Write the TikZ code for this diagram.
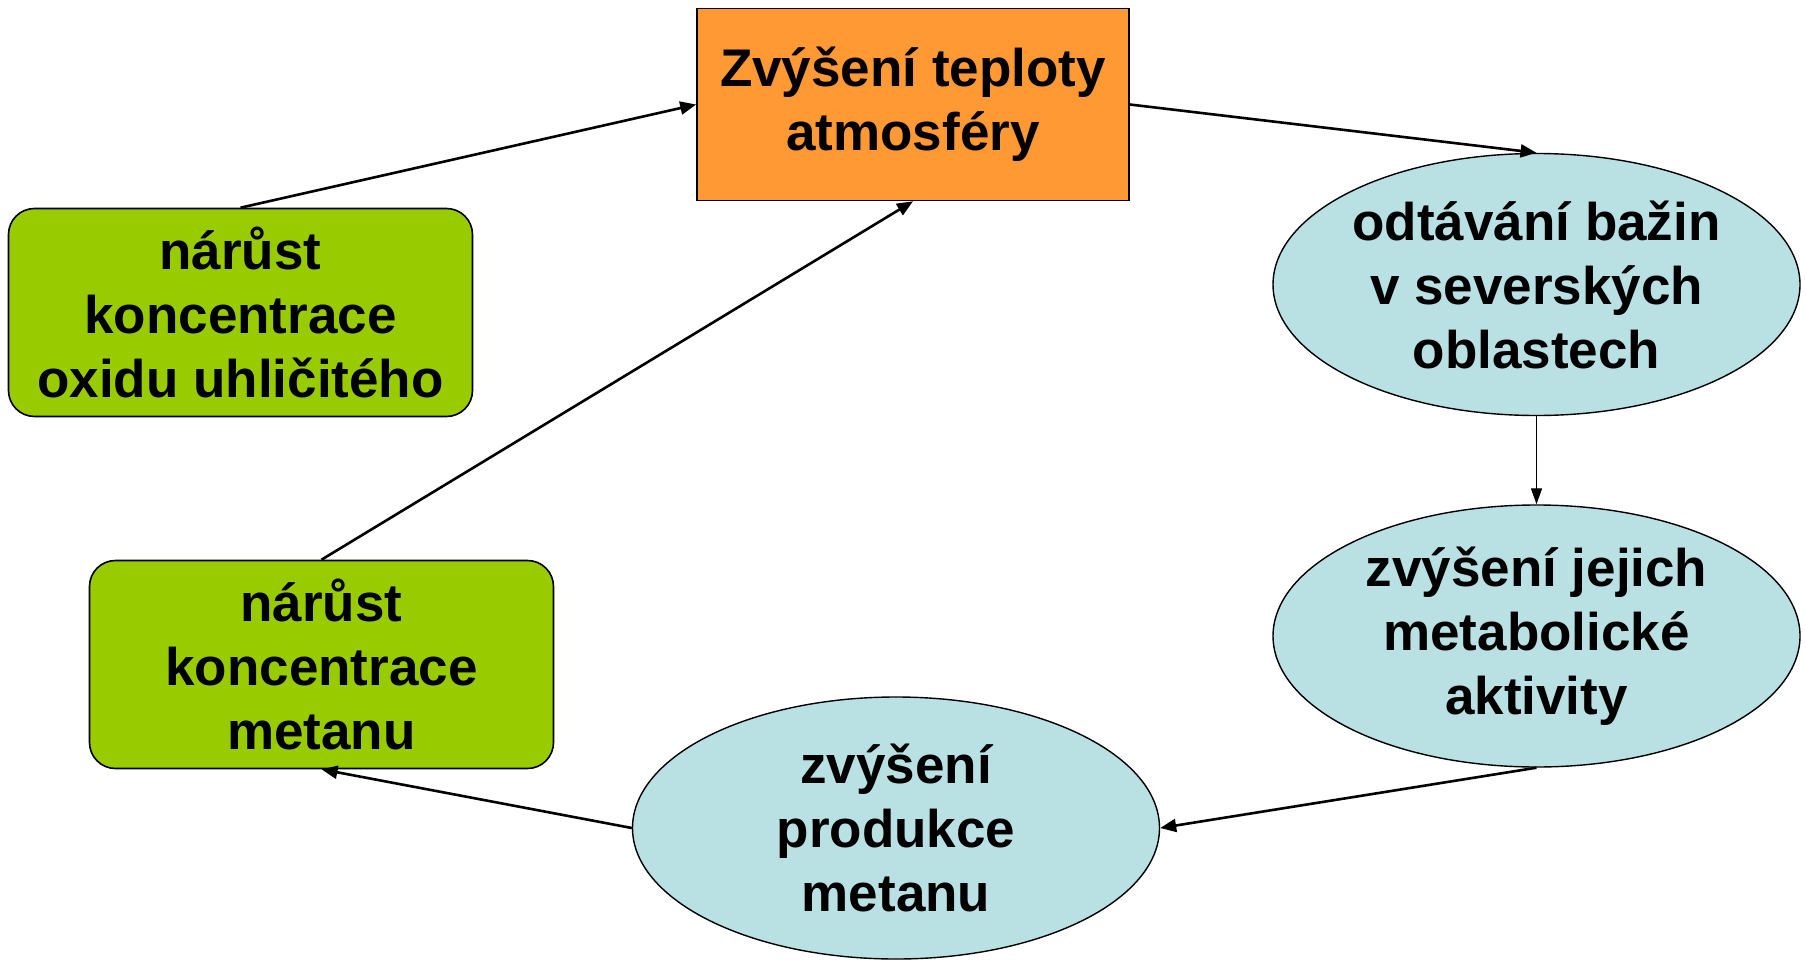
\documentclass[tikz,border=0pt]{standalone}
\usepackage{fontspec}
\setmainfont{Liberation Sans}
\usetikzlibrary{shapes.geometric,arrows.meta}
\definecolor{orangebox}{HTML}{FF9933}
\definecolor{greenbox}{HTML}{99CC00}
\definecolor{bluebox}{HTML}{B9E0E3}
\tikzset{
  txt/.style={font=\fontsize{53}{64}\selectfont\bfseries, align=center, text=black, inner sep=0pt},
  orangenode/.style={txt, draw=black, line width=1.6pt, fill=orangebox, minimum width=432pt, minimum height=192pt},
  greennode/.style={txt, draw=black, line width=1.6pt, fill=greenbox, rounded corners=26pt, minimum width=464pt, minimum height=208pt},
  bluenode/.style={txt, ellipse, draw=black, line width=1.4pt, fill=bluebox, minimum width=527pt, minimum height=262pt},
  conn/.style={line width=2.6pt, -{Triangle[length=16pt,width=13pt]}},
  thinconn/.style={line width=1.3pt, -{Triangle[length=16pt,width=11pt]}}
}
\begin{document}
\begin{tikzpicture}[x=1pt,y=-1pt]
\useasboundingbox (0,0) rectangle (1806,960);
\node[orangenode] (temp) at (913,104.5) {Zvýšení teploty\\atmosféry};
\node[greennode] (co2) at (240.5,312.5) {nárůst\\koncentrace\\oxidu uhličitého};
\node[greennode] (ch4) at (321.5,664.5) {nárůst\\koncentrace\\metanu};
\node[bluenode] (melt) at (1536.5,284.5) {odtávání bažin\\v severských\\oblastech};
\node[bluenode] (meta) at (1536.5,636) {zvýšení jejich\\metabolické\\aktivity};
\node[bluenode] (prod) at (896,828) {zvýšení\\produkce\\metanu};
\draw[conn] (co2.north) -- (temp.west);
\draw[conn] (ch4.north) -- (temp.south);
\draw[conn] (temp.east) -- (melt.north);
\draw[thinconn] (melt.south) -- (meta.north);
\draw[conn] (meta.south) -- (prod.east);
\draw[conn] (prod.west) -- (ch4.south);
\end{tikzpicture}
\end{document}
